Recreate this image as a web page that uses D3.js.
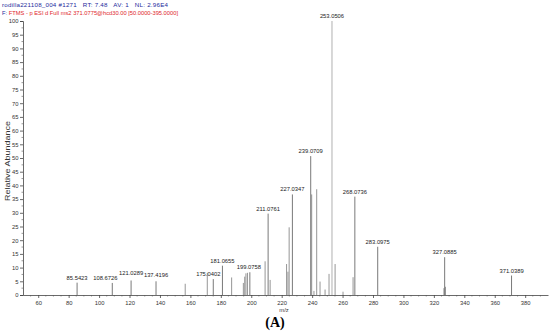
<!DOCTYPE html>
<html>
<head>
<meta charset="utf-8">
<script src="https://cdn.jsdelivr.net/npm/d3@7"></script>
<style>
  body { margin: 0; background: #fff; }
  svg { font-family: "Liberation Sans", Arial, sans-serif; }
</style>
</head>
<body>
<div id="chart"></div>
<script>
// header lines of the scan
var headerInfo = "rodilla221108_004 #1271   RT: 7.48   AV: 1   NL: 2.96E4";
var headerFilter = "FTMS - p ESI d Full ms2 371.0775@hcd30.00 [50.0000-395.0000]";

// labelled peaks (m/z, relative abundance)
var labelMz  = [85.5423, 108.6726, 121.0289, 137.4196, 175.0402, 181.0655, 199.0758, 211.0761, 227.0347, 239.0709, 253.0506, 268.0736, 283.0975, 327.0885, 371.0389];
var labelAbu = [4.5, 4.4, 5.3, 5.0, 5.8, 10.7, 8.3, 29.7, 36.7, 50.7, 100, 35.9, 17.6, 13.8, 7.1];

// unlabelled peaks
var otherMz  = [156.6, 171.1, 187.1, 194.8, 195.7, 196.5, 197.5, 209.1, 212.4, 223.2, 224.1, 224.9, 239.7, 243.0, 245.2, 251.1, 255.1, 266.9, 241.2, 248.5, 260.3, 326.6, 327.6];
var otherAbu = [4.1, 8.1, 6.4, 4.4, 6.7, 7.9, 8.1, 12.3, 5.5, 11.3, 8.5, 24.7, 36.7, 38.6, 4.9, 7.7, 11.3, 6.5, 1.5, 2.0, 1.2, 2.5, 3.0];

var yTicks = d3.range(0, 101, 5);
var xTicks = d3.range(60, 381, 20);

var width = 550, height = 334;
var margin = {top: 21, right: 2, bottom: 39, left: 23};

// labels the instrument pushed aside to keep them apart (px)
var labelNudge = {"108.6726": -7, "175.0402": -5, "199.0758": -1};
var labelLift  = {"121.0289": 2.5, "137.4196": 1};

var svg = d3.select("#chart").append("svg")
    .attr("width", width)
    .attr("height", height);

var x = d3.scaleLinear().domain([50, 395]).range([margin.left, width - margin.right]);
var y = d3.scaleLinear().domain([0, 100]).range([height - margin.bottom, margin.top]);

// header text
svg.append("text")
    .attr("x", 2).attr("y", 7)
    .attr("font-size", 6.2)
    .attr("fill", "#1c2a9c")
    .attr("xml:space", "preserve")
    .attr("textLength", 166)
    .attr("lengthAdjust", "spacing")
    .text(headerInfo);

var hdr = svg.append("text")
    .attr("x", 2).attr("y", 15)
    .attr("font-size", 6.2)
    .attr("xml:space", "preserve")
    .attr("textLength", 176)
    .attr("lengthAdjust", "spacingAndGlyphs");
hdr.append("tspan").attr("fill", "#1c2a9c").text("F: ");
hdr.append("tspan").attr("fill", "#e0262b").text(headerFilter);

// y axis
var yAxis = d3.axisLeft(y).tickValues(yTicks).tickSize(3).tickPadding(1.5);
var yAxisEl = svg.append("g")
    .attr("transform", "translate(" + margin.left + ",0)")
    .call(yAxis);
yAxisEl.selectAll(".tick text").attr("font-size", 5.8).attr("fill", "#333");

// y minor ticks
svg.append("g").selectAll("line")
    .data(d3.range(0, 100, 2.5).filter(function(d) { return d % 5 != 0; }))
    .enter().append("line")
    .attr("x1", margin.left - 1.5).attr("x2", margin.left)
    .attr("y1", function(d) { return y(d); }).attr("y2", function(d) { return y(d); })
    .attr("stroke", "#555").attr("stroke-width", 0.6);

// x axis
var xAxis = d3.axisBottom(x).tickValues(xTicks).tickSize(3).tickPadding(3).tickSizeOuter(0);
var xAxisEl = svg.append("g")
    .attr("transform", "translate(0," + y(0) + ")")
    .call(xAxis);
xAxisEl.selectAll(".tick text").attr("font-size", 5.8).attr("fill", "#333");

// x minor ticks
svg.append("g").selectAll("line")
    .data(d3.range(55, 395, 5).filter(function(d) { return d % 20 != 0; }))
    .enter().append("line")
    .attr("x1", function(d) { return x(d); }).attr("x2", function(d) { return x(d); })
    .attr("y1", y(0)).attr("y2", y(0) + 1.5)
    .attr("stroke", "#555").attr("stroke-width", 0.6);

svg.selectAll(".domain").attr("stroke", "#444").attr("stroke-width", 0.8);
svg.selectAll(".tick line").attr("stroke", "#444").attr("stroke-width", 0.8);

// axis titles
svg.append("text")
    .attr("transform", "translate(10," + ((y(0) + y(100)) / 2 + 3) + ") rotate(-90)")
    .attr("text-anchor", "middle")
    .attr("font-size", 7)
    .attr("fill", "#333")
    .attr("textLength", 80)
    .attr("lengthAdjust", "spacingAndGlyphs")
    .text("Relative Abundance");

svg.append("text")
    .attr("x", 284).attr("y", y(0) + 17)
    .attr("text-anchor", "middle")
    .attr("font-size", 5.8)
    .attr("fill", "#333")
    .text("m/z");

svg.append("text")
    .attr("x", 275).attr("y", 327)
    .attr("text-anchor", "middle")
    .attr("font-family", "Liberation Serif, Times New Roman, serif")
    .attr("font-weight", "bold")
    .attr("font-size", 14)
    .text("(A)");

// peaks
var others = otherMz.map(function(d, i) { return {mz: d, abu: otherAbu[i]}; });
var labelled = labelMz.map(function(d, i) { return {mz: d, abu: labelAbu[i]}; });

svg.append("g").selectAll("line")
    .data(others)
    .enter().append("line")
    .attr("x1", function(d) { return x(d.mz); }).attr("x2", function(d) { return x(d.mz); })
    .attr("y1", y(0)).attr("y2", function(d) { return y(d.abu); })
    .attr("stroke", "#8a8a8a").attr("stroke-width", 0.9);

svg.append("g").selectAll("line")
    .data(labelled)
    .enter().append("line")
    .attr("x1", function(d) { return x(d.mz); }).attr("x2", function(d) { return x(d.mz); })
    .attr("y1", y(0)).attr("y2", function(d) { return y(d.abu); })
    .attr("stroke", function(d) { return d.abu == 100 ? "#a8a8a8" : "#6a6a6a"; })
    .attr("stroke-width", 0.9);

svg.append("g").selectAll("text")
    .data(labelled)
    .enter().append("text")
    .attr("x", function(d) { return x(d.mz) + (labelNudge[d.mz.toFixed(4)] || 0); })
    .attr("y", function(d) { return y(d.abu) - 3 - (labelLift[d.mz.toFixed(4)] || 0); })
    .attr("text-anchor", "middle")
    .attr("font-size", 5.8)
    .attr("fill", "#222")
    .text(function(d) { return d.mz.toFixed(4); });
</script>
</body>
</html>
